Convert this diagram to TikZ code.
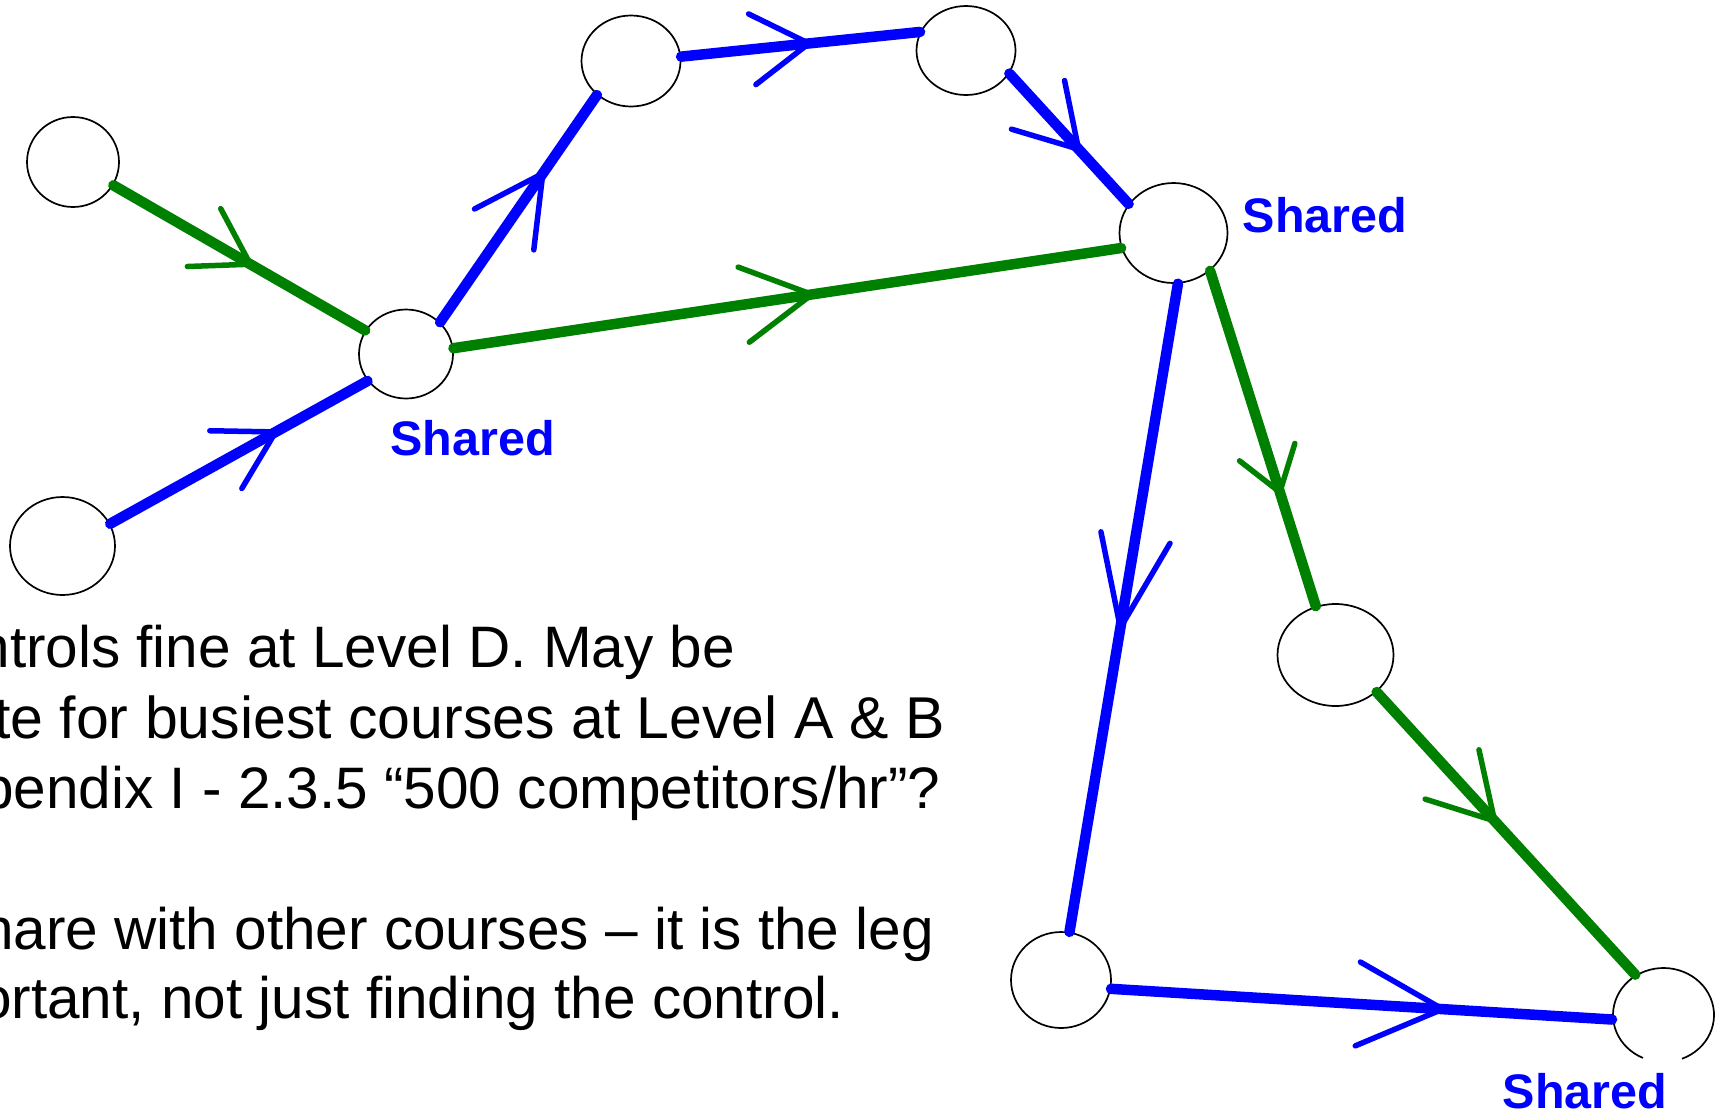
\documentclass[tikz,border=0pt]{standalone}
\usepackage{fontspec}
\setmainfont{Liberation Sans}
\usetikzlibrary{shapes.geometric,decorations.markings}
\definecolor{legblue}{RGB}{0,0,255}
\definecolor{leggreen}{RGB}{0,128,0}

\tikzset{
  control/.style={ellipse, draw=black, line width=1.7pt, fill=white, inner sep=0pt},
  leg/.style={line width=10.5pt, line cap=round},
  % open chevron in the middle of a leg: position : depth : half width : colour
  chevron/.style args={#1:#2:#3:#4}{postaction={decorate, decoration={markings,
      mark=at position #1 with {\draw[#4, line width=5.5pt, line cap=round, line join=round]
        (-#2pt,#3pt) -- (0pt,0pt) -- (-#2pt,-#3pt);}}}},
  sharedlabel/.style={text=legblue, font=\bfseries\fontsize{48.5}{48}\selectfont, inner sep=0pt, anchor=base},
  note/.style={font=\fontsize{58.5}{70}\selectfont, inner sep=0pt, anchor=base east},
}

\begin{document}
\begin{tikzpicture}[x=1pt, y=-1pt]
\useasboundingbox (0,0) rectangle (1720,1112);
\fill[white] (0,0) rectangle (1720,1112);
\clip (0,0) rectangle (1720,1112);

% controls
\node[control, minimum width=92pt,  minimum height=90pt]  (a) at (73,162) {};
\node[control, minimum width=105pt, minimum height=98pt]  (b) at (62.5,546) {};
\node[control, minimum width=94pt,  minimum height=89pt]  (c) at (406,354) {};
\node[control, minimum width=99pt,  minimum height=91pt]  (d) at (631,61) {};
\node[control, minimum width=99pt,  minimum height=89pt]  (e) at (966,50.5) {};
\node[control, minimum width=108pt, minimum height=100pt] (f) at (1173.5,233) {};
\node[control, minimum width=116pt, minimum height=102pt] (g) at (1335.5,655) {};
\node[control, minimum width=100pt, minimum height=96pt]  (h) at (1061,980) {};
\node[ellipse, inner sep=0pt, minimum width=103pt, minimum height=96pt] (i) at (1663.5,1015) {};
\draw[line width=1.7pt] ([shift={(-68.5:50.5pt and 47pt)}]i.center)
  arc[start angle=-68.5, end angle=246, x radius=50.5pt, y radius=47pt];

% legs
\draw[leg, leggreen, chevron={0.544:53.4:33.4:leggreen}] (a.-30.7) -- (c.150);
\draw[leg, legblue,  chevron={0.643:57:33:legblue}]      (b.25.4)  -- (c.215.6);
\draw[leg, legblue,  chevron={0.655:68:36:legblue}]      (c.43.5)  -- (d.225.6);
\draw[leg, leggreen, chevron={0.537:69:38:leggreen}]     (c.7.5)   -- (f.196);
\draw[leg, legblue,  chevron={0.535:57:35.5:legblue}]    (d.5.2)   -- (e.158);
\draw[leg, legblue,  chevron={0.58:60:36:legblue}]       (e.-28.3) -- (f.147);
\draw[leg, legblue,  chevron={0.531:91.5:35:legblue}]    (f.-85.7) -- (h.80.4);
\draw[leg, leggreen, chevron={0.66:42:29:leggreen}]      (f.-46.7) -- (g.112);
\draw[leg, leggreen, chevron={0.456:63:36.5:leggreen}]   (g.-42.5) -- (i.125.5);
\draw[leg, legblue,  chevron={0.662:85:42:legblue}]      (h.-10.4) -- (i.185);

% labels
\node[sharedlabel] (lc) at (472.5,455) {Shared};
\node[sharedlabel] (lf) at (1325,232) {Shared};
\node[sharedlabel] (li) at (1585,1108) {Shared};

% notes
\node[note] (t1) at (735.3,667)  {ntrols fine at Level D. May be};
\node[note, anchor=base west, font=\fontsize{59}{70}\selectfont] (t2) at (-6,738) {te for busiest courses at Level A \& B};
\node[note] (t3) at (940.7,808)  {pendix I - 2.3.5 “500 competitors/hr”?};
\node[note] (t4) at (934,949)    {hare with other courses – it is the leg};
\node[note] (t5) at (844.3,1018) {ortant, not just finding the control.};
\end{tikzpicture}
\end{document}
